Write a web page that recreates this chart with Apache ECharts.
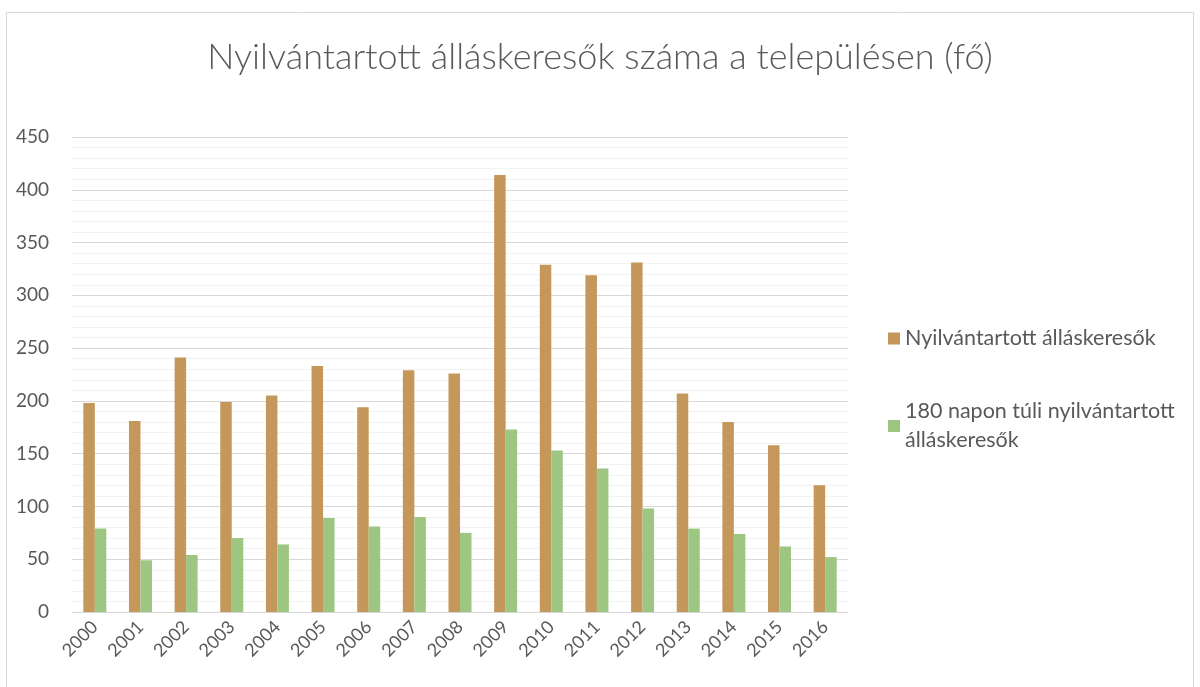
<!DOCTYPE html>
<html>
<head>
<meta charset="utf-8">
<script src="https://cdn.jsdelivr.net/npm/echarts@6/dist/echarts.min.js"></script>
<style>html,body{margin:0;padding:0;background:#fff}#c{width:1200px;height:687px}</style>
</head>
<body>
<div id="c"></div>
<script>
const categories = ['2000','2001','2002','2003','2004','2005','2006','2007','2008','2009','2010','2011','2012','2013','2014','2015','2016'];
const registered = [198,181,241,199,205,233,194,229,226,414,329,319,331,207,180,158,120];
const longTerm = [79,49,54,70,64,89,81,90,75,173,153,136,98,79,74,62,52];
const seriesNames = ['Nyilvántartott álláskeresők','180 napon túli nyilvántartott álláskeresők'];
const titleText = 'Nyilvántartott álláskeresők száma a településen (fő)';

const chart = echarts.init(document.getElementById('c'));
const font = 'Lato, "Open Sans", sans-serif';
chart.setOption({
  animation: false,
  textStyle: {fontFamily: font},
  graphic: [{
    type: 'rect', shape: {x: 6.5, y: 12.5, width: 1187, height: 700},
    style: {fill: 'none', stroke: '#d9d9d9', lineWidth: 1}, silent: true
  }],
  title: {
    text: titleText, left: 'center', top: 34,
    textStyle: {fontFamily: font, fontWeight: 300, fontSize: 36, color: '#595959'}
  },
  legend: {
    orient: 'vertical', left: 883, top: 319, itemGap: 44,
    icon: 'rect', itemWidth: 12, itemHeight: 12,
    textStyle: {fontFamily: font, fontSize: 21.5, color: '#595959', lineHeight: 29},
    formatter: function (n) { return n === seriesNames[1] ? '180 napon túli nyilvántartott\nálláskeresők' : n; },
    data: seriesNames
  },
  grid: {left: 72, right: 352, top: 137, bottom: 75, containLabel: false},
  xAxis: {
    type: 'category', data: categories,
    axisLine: {lineStyle: {color: '#d9d9d9'}},
    axisTick: {show: false},
    axisLabel: {rotate: 45, fontSize: 18, color: '#595959', margin: 12, interval: 0}
  },
  yAxis: {
    type: 'value', min: 0, max: 450, interval: 50,
    axisLine: {show: false}, axisTick: {show: false},
    axisLabel: {fontSize: 19, color: '#595959', margin: 23},
    splitLine: {lineStyle: {color: '#d9d9d9', width: 1}},
    minorTick: {show: false, splitNumber: 5},
    minorSplitLine: {show: true, lineStyle: {color: '#f2f2f2', width: 1}}
  },
  series: [
    {name: seriesNames[0], type: 'bar', data: registered, barWidth: 11.5, barGap: '0%',
     itemStyle: {color: '#C4975A'}},
    {name: seriesNames[1], type: 'bar', data: longTerm, barWidth: 11.5,
     itemStyle: {color: '#9DC682'}}
  ]
});
</script>
</body>
</html>
